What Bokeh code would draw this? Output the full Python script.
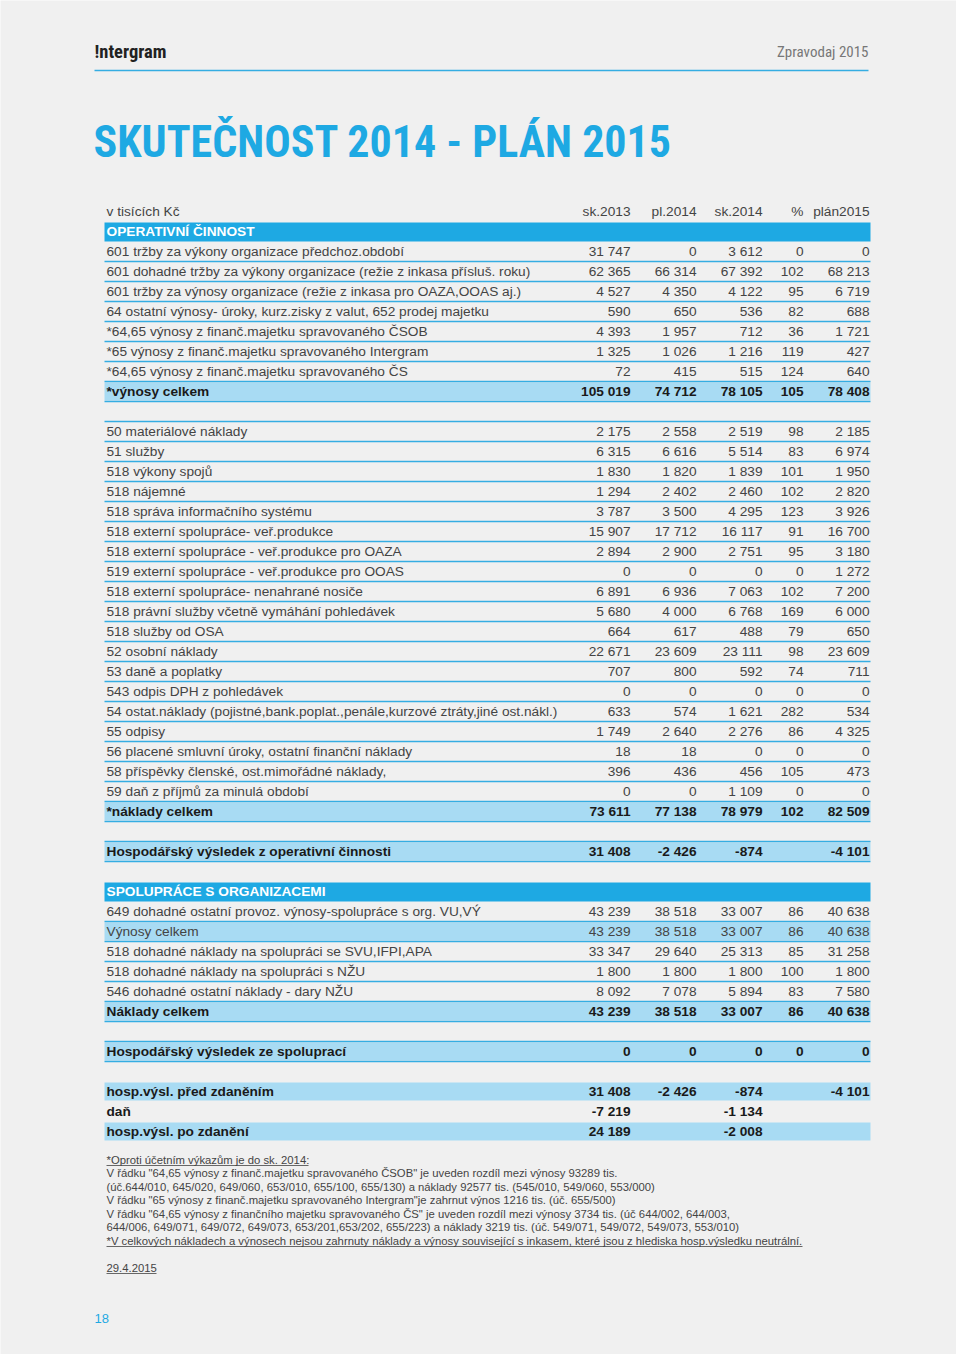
from bokeh.plotting import figure
from bokeh.models import ColumnDataSource, Range1d
from bokeh.core.properties import value
from bokeh.embed import file_html
from bokeh.resources import INLINE

# ---------------- data ----------------
header_left = "!ntergram"
header_right = "Zpravodaj 2015"
title = "SKUTEČNOST 2014 - PLÁN 2015"
unit_label = "v tisících Kč"
columns = ["sk.2013", "pl.2014", "sk.2014", "%", "plán2015"]

labels = [
    "OPERATIVNÍ ČINNOST",
    "601 tržby za výkony organizace předchoz.období",
    "601 dohadné tržby za výkony organizace (režie z inkasa přísluš. roku)",
    "601 tržby za výnosy organizace (režie z inkasa pro OAZA,OOAS aj.)",
    "64  ostatní výnosy- úroky, kurz.zisky z valut, 652 prodej majetku",
    "*64,65 výnosy z finanč.majetku spravovaného ČSOB",
    "*65  výnosy z finanč.majetku spravovaného Intergram",
    "*64,65 výnosy z finanč.majetku spravovaného ČS",
    "*výnosy celkem",
    "",
    "50 materiálové náklady",
    "51 služby",
    "518 výkony spojů",
    "518 nájemné",
    "518 správa informačního systému",
    "518 externí spolupráce- veř.produkce",
    "518 externí spolupráce - veř.produkce pro OAZA",
    "519 externí spolupráce - veř.produkce pro OOAS",
    "518 externí spolupráce- nenahrané nosiče",
    "518 právní služby včetně vymáhání pohledávek",
    "518 služby od OSA",
    "52  osobní náklady",
    "53  daně a poplatky",
    "543 odpis DPH z pohledávek",
    "54  ostat.náklady (pojistné,bank.poplat.,penále,kurzové ztráty,jiné ost.nákl.)",
    "55  odpisy",
    "56  placené smluvní úroky, ostatní finanční náklady",
    "58 příspěvky členské, ost.mimořádné náklady,",
    "59 daň z příjmů za minulá období",
    "*náklady celkem",
    "",
    "Hospodářský výsledek z operativní činnosti",
    "",
    "SPOLUPRÁCE S ORGANIZACEMI",
    "649 dohadné ostatní provoz. výnosy-spolupráce s org. VU,VÝ",
    "Výnosy celkem",
    "518 dohadné náklady na spolupráci se SVU,IFPI,APA",
    "518 dohadné náklady na spolupráci s NŽU",
    "546 dohadné ostatní náklady - dary NŽU",
    "Náklady celkem",
    "",
    "Hospodářský výsledek ze spoluprací",
    "",
    "hosp.výsl. před zdaněním",
    "daň",
    "hosp.výsl. po zdanění",
]

kinds = [
    "section",
    "item", "item", "item", "item", "item", "item", "item",
    "total",
    "blank",
    "item", "item", "item", "item", "item", "item", "item", "item", "item",
    "item", "item", "item", "item", "item", "item", "item", "item", "item", "item",
    "total",
    "blank",
    "result",
    "spacer",
    "section",
    "item",
    "subtotal",
    "item", "item", "item",
    "total",
    "blank",
    "result",
    "spacer",
    "final_fill",
    "final",
    "final_fill",
]

N = None
sk2013 = [N, 31747, 62365, 4527, 590, 4393, 1325, 72, 105019, N,
          2175, 6315, 1830, 1294, 3787, 15907, 2894, 0, 6891, 5680, 664, 22671,
          707, 0, 633, 1749, 18, 396, 0, 73611, N, 31408, N,
          N, 43239, 43239, 33347, 1800, 8092, 43239, N, 0, N,
          31408, -7219, 24189]
pl2014 = [N, 0, 66314, 4350, 650, 1957, 1026, 415, 74712, N,
          2558, 6616, 1820, 2402, 3500, 17712, 2900, 0, 6936, 4000, 617, 23609,
          800, 0, 574, 2640, 18, 436, 0, 77138, N, -2426, N,
          N, 38518, 38518, 29640, 1800, 7078, 38518, N, 0, N,
          -2426, N, N]
sk2014 = [N, 3612, 67392, 4122, 536, 712, 1216, 515, 78105, N,
          2519, 5514, 1839, 2460, 4295, 16117, 2751, 0, 7063, 6768, 488, 23111,
          592, 0, 1621, 2276, 0, 456, 1109, 78979, N, -874, N,
          N, 33007, 33007, 25313, 1800, 5894, 33007, N, 0, N,
          -874, -1134, -2008]
pct = [N, 0, 102, 95, 82, 36, 119, 124, 105, N,
       98, 83, 101, 102, 123, 91, 95, 0, 102, 169, 79, 98,
       74, 0, 282, 86, 0, 105, 0, 102, N, N, N,
       N, 86, 86, 85, 100, 83, 86, N, 0, N,
       N, N, N]
plan2015 = [N, 0, 68213, 6719, 688, 1721, 427, 640, 78408, N,
            2185, 6974, 1950, 2820, 3926, 16700, 3180, 1272, 7200, 6000, 650, 23609,
            711, 0, 534, 4325, 0, 473, 0, 82509, N, -4101, N,
            N, 40638, 40638, 31258, 1800, 7580, 40638, N, 0, N,
            -4101, N, N]

footnotes = [
    "*Oproti účetním výkazům je do sk. 2014:",
    "V řádku \"64,65 výnosy z finanč.majetku spravovaného ČSOB\" je uveden rozdíl mezi výnosy 93289 tis.",
    "(úč.644/010, 645/020, 649/060, 653/010, 655/100, 655/130) a náklady 92577 tis. (545/010, 549/060, 553/000)",
    "V řádku \"65 výnosy z finanč.majetku spravovaného Intergram\"je zahrnut výnos 1216 tis. (úč. 655/500)",
    "V řádku \"64,65 výnosy z finančního majetku spravovaného ČS\" je uveden rozdíl mezi výnosy 3734 tis. (úč 644/002, 644/003,",
    "644/006, 649/071, 649/072, 649/073, 653/201,653/202, 655/223) a náklady 3219 tis. (úč. 549/071, 549/072, 549/073, 553/010)",
    "*V celkových nákladech a výnosech nejsou zahrnuty náklady a výnosy související s inkasem, které jsou z hlediska hosp.výsledku neutrální.",
]
date_text = "29.4.2015"
page_no = "18"

# ---------------- layout / style ----------------
W, H = 956, 1354
FONT = "Liberation Sans"
NARROW = "Liberation Sans Narrow, Roboto Condensed, Liberation Sans"
BLUE = "#1ea9e3"
LINE_BLUE = "#35ade2"
LIGHT = "#a8dbf3"
TXT = "#444444"
BG = "#f0f0f0"
FS = "13.7px"

ROW_Y0 = 231        # first data row (section band)
ROW_H = 20
HEAD_Y = 211
BAND_L, BAND_R = 104, 870
LABEL_X = 106
COL_R = [630, 696, 762, 803, 869]

def fmt(v):
    if v is None:
        return ""
    s = f"{abs(v):,}".replace(",", " ")
    return ("-" if v < 0 else "") + s

p = figure(width=W, height=H, output_backend="svg", toolbar_location=None,
           x_range=Range1d(0, W), y_range=Range1d(H, 0),
           min_border=0, background_fill_color=BG, border_fill_color=BG)
p.axis.visible = False
p.grid.visible = False
p.outline_line_color = None

# header
p.text(x=[94], y=[51], text=[header_left], text_font=value(NARROW), text_font_size="18.5px",
       text_font_style="bold", text_color="#222222", text_baseline="middle")
p.text(x=[868], y=[51], text=[header_right], text_font=value(NARROW), text_font_size="15px",
       text_color="#777777", text_baseline="middle", text_align="right")
p.segment(x0=[94], x1=[868], y0=[70], y1=[70], line_color=LINE_BLUE, line_width=1.5)

# title
p.text(x=[93], y=[141], text=[title], text_font=value(NARROW), text_font_size="44px",
       text_font_style="bold", text_color=BLUE, text_baseline="middle")

# column header row
p.text(x=[LABEL_X], y=[HEAD_Y], text=[unit_label], text_font=value(FONT), text_font_size=FS,
       text_color=TXT, text_baseline="middle")
p.text(x=COL_R, y=[HEAD_Y] * 5, text=columns, text_font=value(FONT), text_font_size=FS,
       text_color=TXT, text_baseline="middle", text_align="right")

ys = [ROW_Y0 + i * ROW_H for i in range(len(labels))]

# bands
sec_y = [y for y, k in zip(ys, kinds) if k == "section"]
p.quad(left=BAND_L, right=BAND_R, top=[y - 9 for y in sec_y], bottom=[y + 10 for y in sec_y],
       fill_color=BLUE, line_color=None)
fill_y = [y for y, k in zip(ys, kinds) if k in ("total", "subtotal", "result", "final_fill")]
p.quad(left=BAND_L, right=BAND_R, top=[y - 9 for y in fill_y], bottom=[y + 9 for y in fill_y],
       fill_color=LIGHT, line_color=None)

# row rules
line_y = []
for i, (y, k) in enumerate(zip(ys, kinds)):
    nxt = kinds[i + 1] if i + 1 < len(kinds) else None
    if k in ("item", "total", "subtotal", "result"):
        line_y.append(y + 10)
    elif k == "blank" and nxt in ("item", "result"):
        line_y.append(y + 10)
p.segment(x0=BAND_L, x1=BAND_R, y0=line_y, y1=line_y, line_color=LINE_BLUE, line_width=1.5)

# labels
bold_kinds = ("total", "result", "final_fill", "final")
def add_labels(sel, color, bold):
    src = ColumnDataSource(dict(x=[LABEL_X] * len(sel), y=[ys[i] for i in sel],
                                t=[labels[i] for i in sel]))
    p.text(x="x", y="y", text="t", source=src, text_font=value(FONT), text_font_size=FS,
           text_color=color, text_baseline="middle",
           text_font_style="bold" if bold else "normal")

add_labels([i for i, k in enumerate(kinds) if k in ("item", "subtotal")], TXT, False)
add_labels([i for i, k in enumerate(kinds) if k in bold_kinds], "#1a1a1a", True)
add_labels([i for i, k in enumerate(kinds) if k == "section"], "white", True)

# numbers
series = [sk2013, pl2014, sk2014, pct, plan2015]
for ci, vals in enumerate(series):
    for bold in (False, True):
        sel = [i for i, k in enumerate(kinds)
               if vals[i] is not None and ((k in bold_kinds) == bold)]
        src = ColumnDataSource(dict(x=[COL_R[ci]] * len(sel), y=[ys[i] for i in sel],
                                    t=[fmt(vals[i]) for i in sel]))
        p.text(x="x", y="y", text="t", source=src, text_font=value(FONT), text_font_size=FS,
               text_color="#1a1a1a" if bold else TXT, text_baseline="middle", text_align="right",
               text_font_style="bold" if bold else "normal")

# footnotes
FN_Y0, FN_H = 1159, 13.5
fy = [FN_Y0 + i * FN_H for i in range(len(footnotes))]
p.text(x=[LABEL_X] * len(footnotes), y=fy, text=footnotes, text_font=value(FONT),
       text_font_size="11.3px", text_color=TXT, text_baseline="middle")
# underlines for first and last footnote and the date
p.segment(x0=[LABEL_X, LABEL_X], x1=[308, 802], y0=[fy[0] + 6, fy[-1] + 6], y1=[fy[0] + 6, fy[-1] + 6],
          line_color=TXT, line_width=0.8)
p.text(x=[LABEL_X], y=[1267], text=[date_text], text_font=value(FONT), text_font_size="11.3px",
       text_color=TXT, text_baseline="middle")
p.segment(x0=[LABEL_X], x1=[156], y0=[1273], y1=[1273], line_color=TXT, line_width=0.8)

# page number
p.text(x=[94], y=[1318], text=[page_no], text_font=value(FONT), text_font_size="13px",
       text_color=BLUE, text_baseline="middle")

open("out.html", "w").write(file_html(p, INLINE))
